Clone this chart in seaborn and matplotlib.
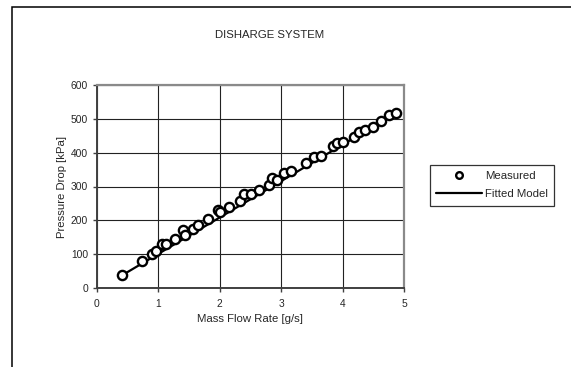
import matplotlib
matplotlib.use("Agg")
import matplotlib.pyplot as plt
from matplotlib.lines import Line2D
from matplotlib.patches import Rectangle
import seaborn as sns
import pandas as pd

# ---- data ----
flow_rate = [0.42, 0.74, 0.90, 0.96, 1.06, 1.13, 1.27, 1.41, 1.44, 1.57, 1.655,
             1.81, 1.97, 2.01, 2.16, 2.33, 2.40, 2.51, 2.64, 2.80, 2.86, 2.93,
             3.05, 3.17, 3.41, 3.53, 3.645, 3.85, 3.905, 4.01, 4.18, 4.27, 4.37,
             4.49, 4.62, 4.75, 4.875]
pressure_drop = [38, 79, 100, 109, 130, 129, 146, 171, 158, 175, 186,
                 204, 230, 224, 239, 258, 277, 278, 290, 305, 325, 320,
                 340, 346, 369, 388, 391, 420, 428, 431, 447, 461, 467,
                 476, 493, 510, 517]
fit_flow = [0.42, 4.88]
fit_pressure = [38, 518]

x_ticks = [0, 1, 2, 3, 4, 5]
y_ticks = [0, 100, 200, 300, 400, 500, 600]

title = "DISHARGE SYSTEM"
x_label = "Mass Flow Rate [g/s]"
y_label = "Pressure Drop [kPa]"
legend_labels = ["Measured", "Fitted Model"]

measured = pd.DataFrame({"x": flow_rate, "y": pressure_drop})
fitted = pd.DataFrame({"x": fit_flow, "y": fit_pressure})

sns.set_theme(style="white")
plt.rcParams["font.family"] = ["Liberation Sans", "DejaVu Sans"]

W, H = 571, 367
fig = plt.figure(figsize=(W / 100, H / 100), dpi=100)
fig.patch.set_facecolor("white")

# outer chart frame
fig.patches.append(Rectangle((12 / W, -0.1), 1.2, 1 - 7 / H + 0.1,
                             transform=fig.transFigure, fill=False,
                             edgecolor="black", linewidth=1.1, zorder=0))

ax = fig.add_axes([96.5 / W, (H - 288) / H, (404 - 96.5) / W, (288 - 85) / H])
ax.set_facecolor("white")

sns.lineplot(data=fitted, x="x", y="y", ax=ax, color="black", linewidth=1.6,
             zorder=2, legend=False)
sns.scatterplot(data=measured, x="x", y="y", ax=ax, marker="o", s=44,
                facecolor="white", edgecolor="black", linewidth=1.7,
                zorder=3, legend=False)

ax.set_xlim(0, 5)
ax.set_ylim(0, 600)
ax.set_xticks(x_ticks)
ax.set_yticks(y_ticks)
ax.set_xticklabels([str(t) for t in x_ticks], fontsize=7.4)
ax.set_yticklabels([str(t) for t in y_ticks], fontsize=7.4)
ax.tick_params(axis="both", direction="out", length=3, width=1,
               color="#404040", pad=3, bottom=True, left=True)
ax.tick_params(axis="x", pad=5)
ax.grid(True, color="#222222", linewidth=0.8)
ax.set_axisbelow(True)

for side in ["left", "bottom"]:
    ax.spines[side].set_color("#404040")
    ax.spines[side].set_linewidth(1.4)
for side in ["top", "right"]:
    ax.spines[side].set_color("#8a8a8a")
    ax.spines[side].set_linewidth(1.6)

ax.set_xlabel("")
ax.set_ylabel("")
fig.text(250 / W, 1 - 319 / H, x_label, ha="center", va="center", fontsize=8.2)
fig.text(62 / W, 1 - 187 / H, y_label, ha="center", va="center",
         rotation=90, fontsize=8.2)
fig.text(269.5 / W, 1 - 35 / H, title, ha="center", va="center", fontsize=8.2)

handles = [
    Line2D([], [], linestyle="none", marker="o", markersize=4.8,
           markerfacecolor="white", markeredgecolor="black", markeredgewidth=1.7),
    Line2D([], [], color="black", linewidth=1.6),
]
leg = ax.legend(handles, legend_labels, loc="upper left",
                bbox_to_anchor=(430 / W, 1 - 165 / H),
                bbox_transform=fig.transFigure, borderaxespad=0,
                fontsize=8.2, frameon=True, fancybox=False, handlelength=4.0,
                handletextpad=0.3, labelspacing=0.7, borderpad=0.55)
leg.get_frame().set_edgecolor("black")
leg.get_frame().set_linewidth(0.9)

fig.savefig("out.png", dpi=100)
